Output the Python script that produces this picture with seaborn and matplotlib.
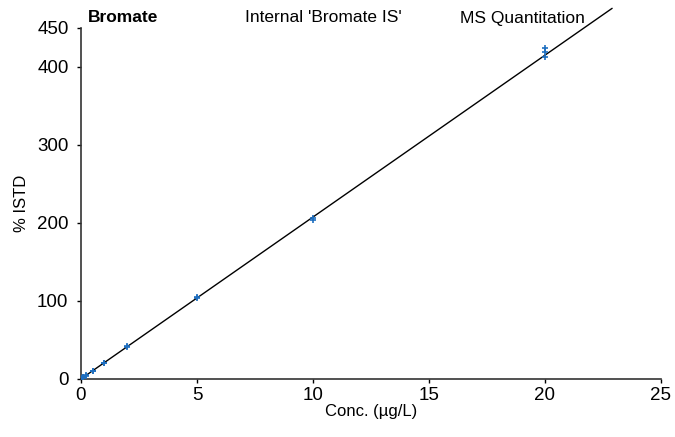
import matplotlib
matplotlib.use("Agg")
import matplotlib.pyplot as plt
import seaborn as sns
import numpy as np
import pandas as pd

conc = [0.05, 0.1, 0.1, 0.2, 0.2, 0.5, 0.5, 1, 1, 2, 2, 5, 5, 10, 10, 20, 20, 20]
istd = [1.0, 2.0, 2.2, 4.1, 4.4, 10.2, 10.6, 20.3, 20.9, 41.0, 42.0, 103.5, 104.5, 204.0, 206.0, 413.0, 419.0, 424.0]
fit_x = [0, 22.9]
slope = 20.75
xticks = [0, 5, 10, 15, 20, 25]
yticks = [0, 100, 200, 300, 400, 450]

sns.set_theme(style="white")
plt.rcParams['font.family'] = ['Liberation Sans Narrow', 'Liberation Sans', 'DejaVu Sans']
plt.rcParams['text.color'] = 'black'
plt.rcParams['axes.labelcolor'] = 'black'
plt.rcParams['xtick.color'] = 'black'
plt.rcParams['ytick.color'] = 'black'

fig = plt.figure(figsize=(6.75, 4.37), dpi=100)
ax = fig.add_axes([0.12, 0.133, 0.859, 0.803])

df = pd.DataFrame({"conc": conc, "istd": istd})
fit = pd.DataFrame({"x": fit_x, "y": [slope * v for v in fit_x]})
sns.lineplot(data=fit, x="x", y="y", ax=ax, color="black", linewidth=1.0, clip_on=False)
sns.scatterplot(data=df, x="conc", y="istd", ax=ax, marker="+", color="#1f6fc0", s=25, linewidth=1.2, zorder=3)

ax.set_xlim(0, 25)
ax.set_ylim(0, 450)
ax.set_xticks(xticks)
ax.set_yticks(yticks)
ax.tick_params(axis="both", labelsize=13.5, length=3, width=1, direction="out", color="black")
ax.tick_params(axis="y", left=True, pad=6)
ax.tick_params(axis="x", bottom=True, pad=3)
for s in ["top", "right"]:
    ax.spines[s].set_visible(False)
for s in ["left", "bottom"]:
    ax.spines[s].set_color("#333333")
    ax.spines[s].set_linewidth(1.2)
ax.set_xlabel("Conc. (µg/L)", fontsize=12, labelpad=0)
ax.set_ylabel("% ISTD", fontsize=12, labelpad=6)

fig.text(88 / 675, 1 - 18 / 437, "Bromate", fontsize=12.5, fontweight="bold", va="center")
fig.text(245 / 675, 1 - 18 / 437, "Internal 'Bromate IS'", fontsize=12.5, va="center")
fig.text(460 / 675, 1 - 18 / 437, "MS Quantitation", fontsize=12.5, va="center")

fig.savefig("out.png", dpi=100)
